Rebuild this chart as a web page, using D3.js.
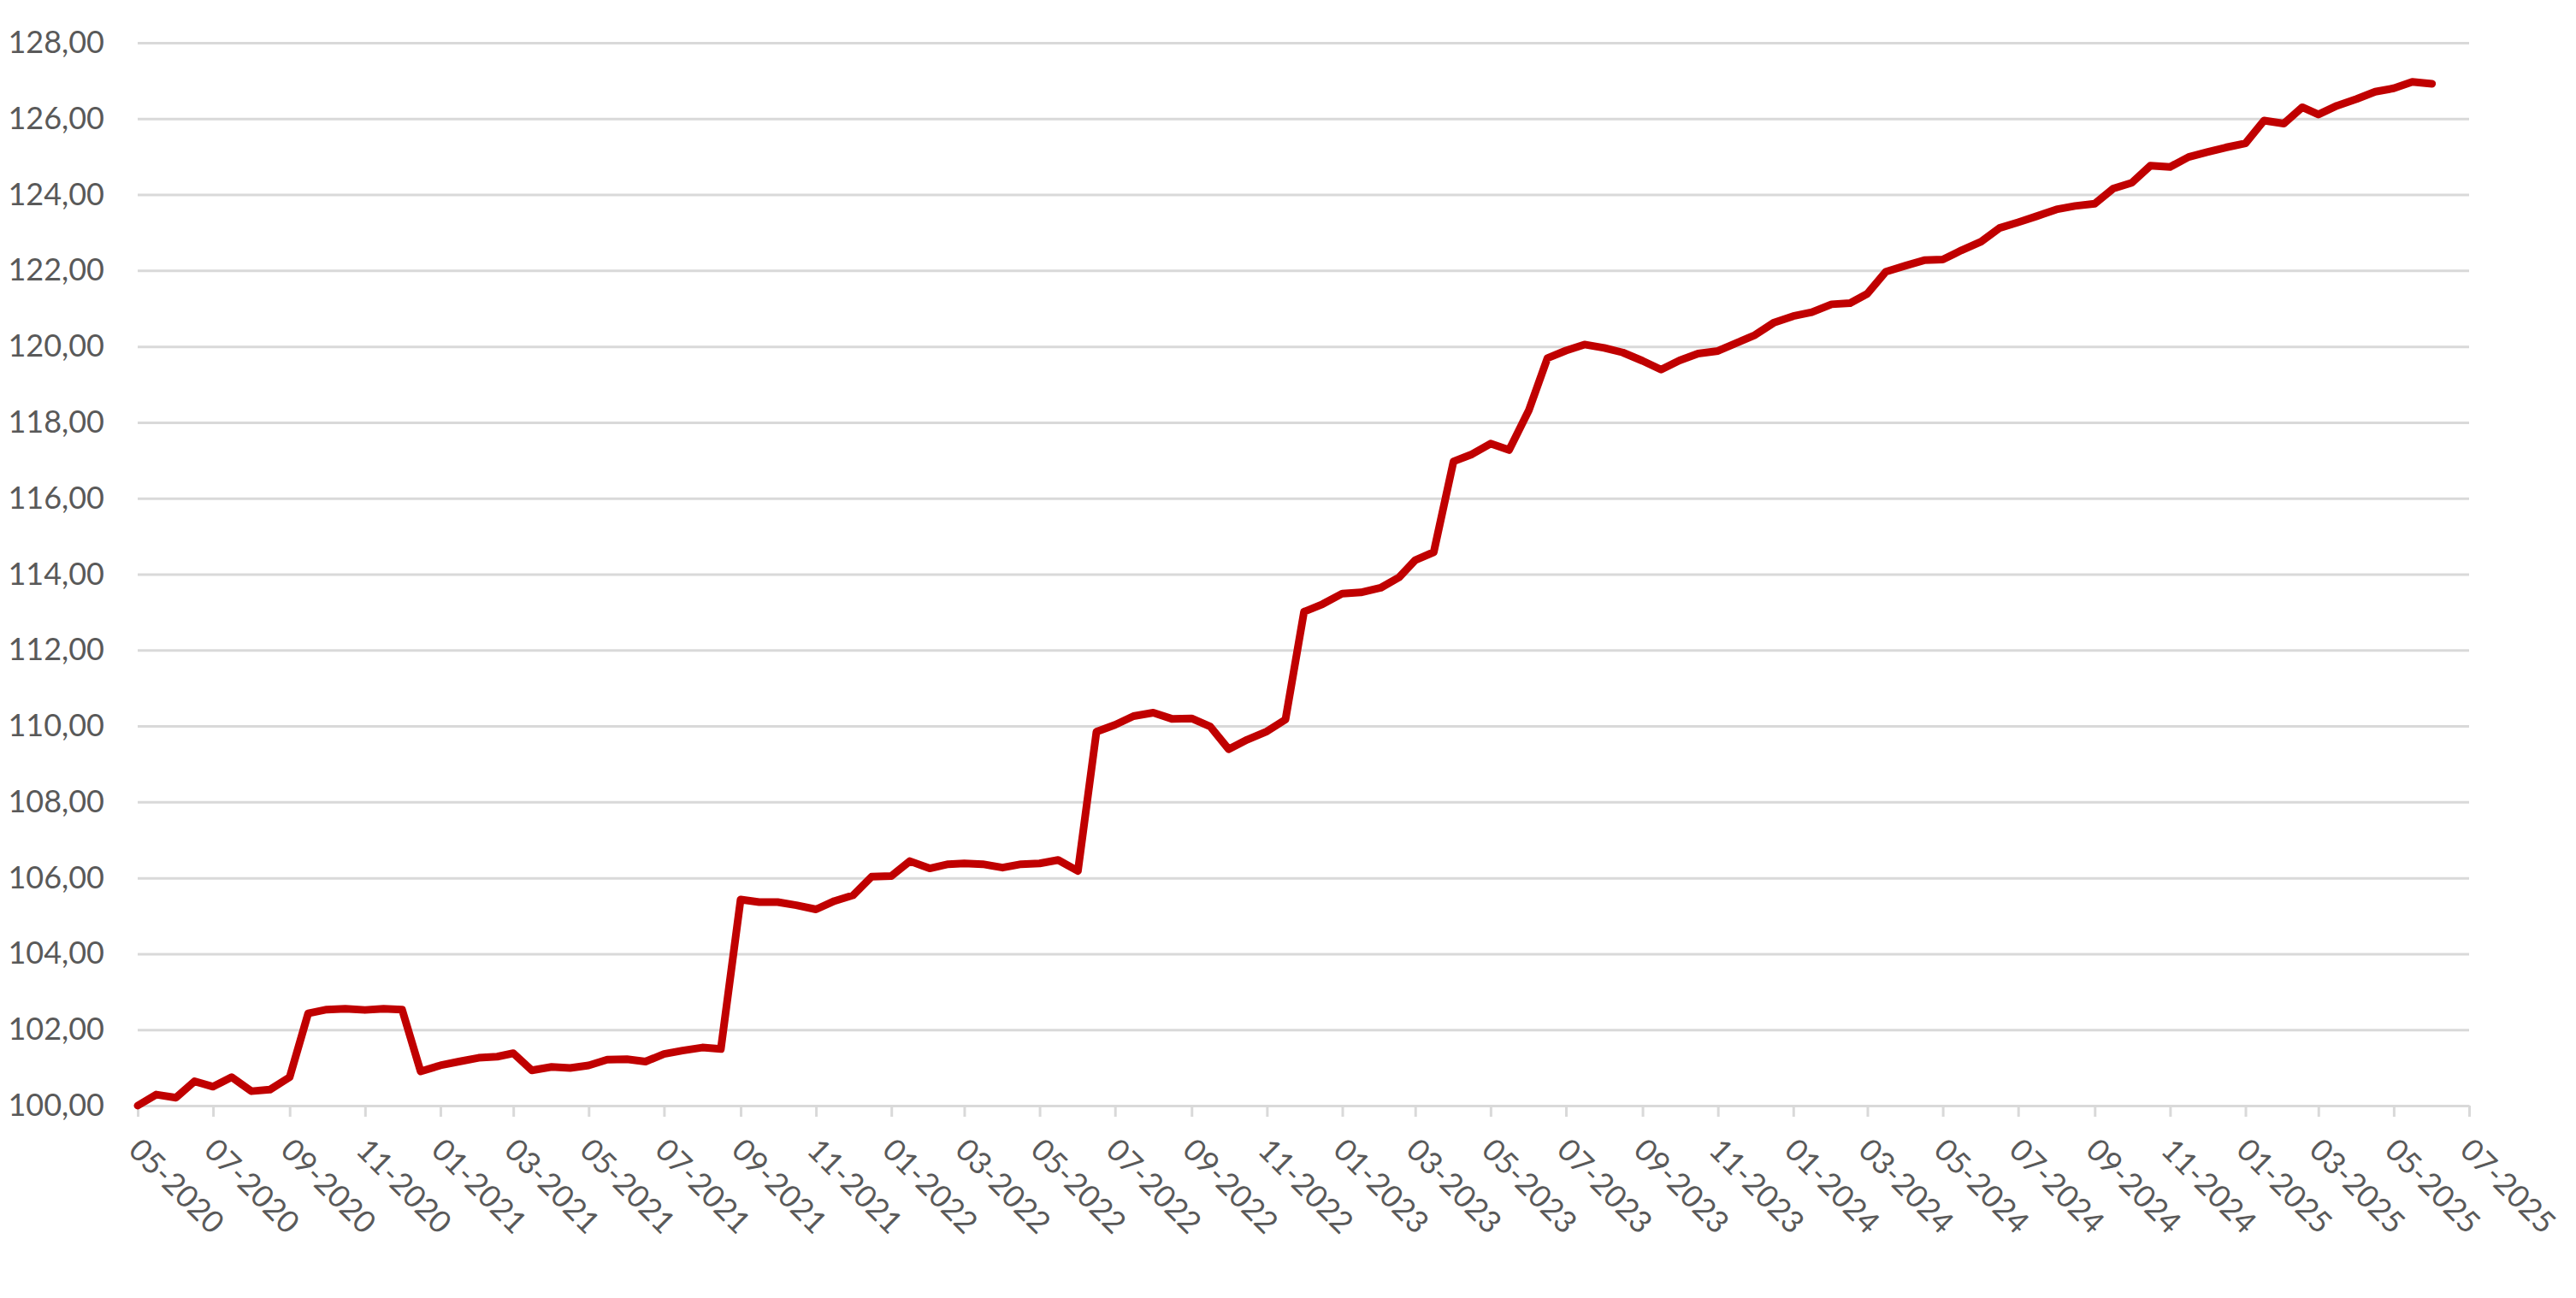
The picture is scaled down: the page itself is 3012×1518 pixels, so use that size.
<!DOCTYPE html>
<html>
<head>
<meta charset="utf-8">
<script src="https://cdn.jsdelivr.net/npm/d3@7"></script>
<style>
  html, body { margin: 0; padding: 0; background: #ffffff; }
  svg { display: block; }
</style>
</head>
<body>
<svg id="chart" width="3012" height="1518"></svg>
<script>
// ---- data ----
const dates = [
  "2020-05-01","2020-05-16","2020-06-01","2020-06-16","2020-07-01","2020-07-16","2020-08-01","2020-08-16",
  "2020-09-01","2020-09-16","2020-10-01","2020-10-16","2020-11-01","2020-11-16","2020-12-01","2020-12-16",
  "2021-01-01","2021-01-16","2021-02-01","2021-02-16","2021-03-01","2021-03-16","2021-04-01","2021-04-16",
  "2021-05-01","2021-05-16","2021-06-01","2021-06-16","2021-07-01","2021-07-16","2021-08-01","2021-08-16",
  "2021-09-01","2021-09-16","2021-10-01","2021-10-16","2021-11-01","2021-11-16","2021-12-01","2021-12-16",
  "2022-01-01","2022-01-16","2022-02-01","2022-02-16","2022-03-01","2022-03-16","2022-04-01","2022-04-16",
  "2022-05-01","2022-05-16","2022-06-01","2022-06-16","2022-07-01","2022-07-16","2022-08-01","2022-08-16",
  "2022-09-01","2022-09-16","2022-10-01","2022-10-16","2022-11-01","2022-11-16","2022-12-01","2022-12-16",
  "2023-01-01","2023-01-16","2023-02-01","2023-02-16","2023-03-01","2023-03-16","2023-04-01","2023-04-16",
  "2023-05-01","2023-05-16","2023-06-01","2023-06-16","2023-07-01","2023-07-16","2023-08-01","2023-08-16",
  "2023-09-01","2023-09-16","2023-10-01","2023-10-16","2023-11-01","2023-11-16","2023-12-01","2023-12-16",
  "2024-01-01","2024-01-16","2024-02-01","2024-02-16","2024-03-01","2024-03-16","2024-04-01","2024-04-16",
  "2024-05-01","2024-05-16","2024-06-01","2024-06-16","2024-07-01","2024-07-16","2024-08-01","2024-08-16",
  "2024-09-01","2024-09-16","2024-10-01","2024-10-16","2024-11-01","2024-11-16","2024-12-01","2024-12-16",
  "2025-01-01","2025-01-16","2025-02-01","2025-02-16","2025-03-01","2025-03-16","2025-04-01","2025-04-16",
  "2025-05-01","2025-05-16","2025-06-01"
];

const values = [
  100.00,100.29,100.21,100.64,100.50,100.75,100.38,100.42,
  100.75,102.43,102.53,102.55,102.52,102.55,102.53,100.90,
  101.06,101.16,101.26,101.29,101.38,100.93,101.02,100.99,
  101.06,101.21,101.22,101.16,101.36,101.45,101.53,101.49,
  105.43,105.36,105.36,105.28,105.17,105.39,105.54,106.03,
  106.05,106.44,106.25,106.36,106.38,106.36,106.27,106.36,
  106.38,106.47,106.18,109.85,110.03,110.26,110.35,110.19,
  110.20,109.99,109.39,109.64,109.86,110.17,113.01,113.21,
  113.49,113.52,113.64,113.92,114.37,114.58,116.97,117.16,
  117.44,117.27,118.32,119.69,119.89,120.05,119.96,119.84,
  119.62,119.39,119.63,119.81,119.88,120.09,120.30,120.62,
  120.80,120.90,121.11,121.14,121.39,121.97,122.13,122.27,
  122.29,122.53,122.76,123.12,123.27,123.43,123.61,123.70,
  123.76,124.16,124.31,124.76,124.73,124.99,125.12,125.24,
  125.35,125.95,125.87,126.30,126.11,126.34,126.52,126.71,
  126.80,126.97,126.92
];

const yTicks = [100,102,104,106,108,110,112,114,116,118,120,122,124,126,128];

const xTickLabels = [
  "05-2020","07-2020","09-2020","11-2020",
  "01-2021","03-2021","05-2021","07-2021","09-2021","11-2021",
  "01-2022","03-2022","05-2022","07-2022","09-2022","11-2022",
  "01-2023","03-2023","05-2023","07-2023","09-2023","11-2023",
  "01-2024","03-2024","05-2024","07-2024","09-2024","11-2024",
  "01-2025","03-2025","05-2025","07-2025"
];

// ---- drawing ----
(function () {
  const svg = d3.select("#chart");
  const W = 3012, H = 1518;
  const plotLeft = 161, plotRight = 2887, plotTop = 50, plotBottom = 1293;

  svg.append("rect").attr("width", W).attr("height", H).attr("fill", "#ffffff");

  const parseDay = d3.timeParse("%Y-%m-%d");
  const parseTick = d3.timeParse("%m-%Y");
  const tickDates = xTickLabels.map(parseTick);
  const data = dates.map((d, i) => ({ date: parseDay(d), value: values[i] }));

  const x = d3.scaleTime()
    .domain([tickDates[0], tickDates[tickDates.length - 1]])
    .range([plotLeft, plotRight]);
  const y = d3.scaleLinear().domain([100, 128]).range([plotBottom, plotTop]);

  const fmt = v => d3.format(".2f")(v).replace(".", ",");
  const gridColor = "#D9D9D9";
  const textColor = "#595959";
  const fontFamily = "Lato, 'Open Sans', sans-serif";

  // horizontal gridlines + y labels
  const yAxis = d3.axisLeft(y)
    .tickValues(yTicks)
    .tickSize(-(plotRight - plotLeft))
    .tickPadding(39)
    .tickFormat(fmt);

  const gy = svg.append("g")
    .attr("transform", `translate(${plotLeft},0)`)
    .call(yAxis);
  gy.select(".domain").remove();
  gy.selectAll(".tick line")
    .attr("stroke", gridColor)
    .attr("stroke-width", 3);
  gy.selectAll(".tick text")
    .attr("fill", textColor)
    .attr("font-family", fontFamily)
    .attr("font-size", 36);

  // x axis with tick marks and rotated labels
  const xAxis = d3.axisBottom(x)
    .tickValues(tickDates)
    .tickSize(13)
    .tickSizeOuter(0)
    .tickFormat((d, i) => xTickLabels[i]);

  const gx = svg.append("g")
    .attr("transform", `translate(0,${plotBottom})`)
    .call(xAxis);
  gx.select(".domain")
    .attr("stroke", gridColor)
    .attr("stroke-width", 3);
  gx.selectAll(".tick line")
    .attr("stroke", gridColor)
    .attr("stroke-width", 3);
  gx.selectAll(".tick text")
    .attr("fill", textColor)
    .attr("font-family", fontFamily)
    .attr("font-size", 36)
    .attr("text-anchor", "start")
    .attr("dy", null)
    .attr("y", null)
    .attr("dominant-baseline", "central")
    .attr("transform", "translate(-3,44) rotate(45)");

  // the series line
  const line = d3.line()
    .x(d => x(d.date))
    .y(d => y(d.value));

  svg.append("path")
    .datum(data)
    .attr("fill", "none")
    .attr("stroke", "#C00000")
    .attr("stroke-width", 9)
    .attr("stroke-linejoin", "round")
    .attr("stroke-linecap", "round")
    .attr("d", line);
})();
</script>
</body>
</html>
